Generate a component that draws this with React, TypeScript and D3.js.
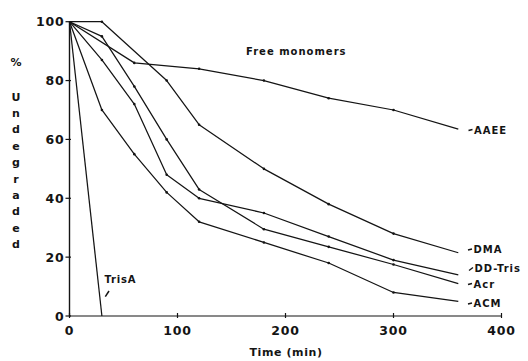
import React from "react";
import * as d3 from "d3";

const timeAAEE = [0, 60, 120, 180, 240, 300, 360];
const valAAEE = [100, 86, 84, 80, 74, 70, 63.5];
const timeDMA = [0, 30, 90, 120, 180, 240, 300, 360];
const valDMA = [100, 100, 80, 65, 50, 38, 28, 21.5];
const timeDDTris = [0, 30, 60, 90, 120, 180, 240, 300, 360];
const valDDTris = [100, 87, 72, 48, 40, 35, 27, 19, 14];
const timeAcr = [0, 30, 60, 90, 120, 180, 240, 300, 360];
const valAcr = [100, 95, 78, 60, 43, 29.5, 23.5, 17.5, 11];
const timeACM = [0, 30, 60, 90, 120, 180, 240, 300, 360];
const valACM = [100, 70, 55, 42, 32, 25, 18, 8, 5];
const timeTrisA = [0, 30];
const valTrisA = [100, 0];

const seriesNames = ["AAEE", "DMA", "DD-Tris", "Acr", "ACM", "TrisA"];
const xTicks = [0, 100, 200, 300, 400];
const yTicks = [0, 20, 40, 60, 80, 100];
const yTitleLetters = ["U", "n", "d", "e", "g", "r", "a", "d", "e", "d"];

const W = 528;
const H = 361;

export default function App() {
  const x = d3.scaleLinear().domain([0, 400]).range([69.5, 501.5]);
  const y = d3.scaleLinear().domain([0, 100]).range([316, 21.7]);
  const line = d3
    .line<[number, number]>()
    .x((d) => x(d[0]))
    .y((d) => y(d[1]));

  const series = [
    { name: seriesNames[0], t: timeAAEE, v: valAAEE },
    { name: seriesNames[1], t: timeDMA, v: valDMA },
    { name: seriesNames[2], t: timeDDTris, v: valDDTris },
    { name: seriesNames[3], t: timeAcr, v: valAcr },
    { name: seriesNames[4], t: timeACM, v: valACM },
    { name: seriesNames[5], t: timeTrisA, v: valTrisA },
  ];

  const labelPos: Record<string, { x: number; y: number }> = {
    AAEE: { x: 474, y: 130 },
    DMA: { x: 473.5, y: 249.5 },
    "DD-Tris": { x: 474.5, y: 268.5 },
    Acr: { x: 473.5, y: 284 },
    ACM: { x: 473.5, y: 303.5 },
  };

  const font = "'DejaVu Sans', sans-serif";
  const ink = "#141414";

  return (
    <svg
      width={W}
      height={H}
      style={{ position: "absolute", left: 0, top: 0, background: "#fff" }}
      fontFamily={font}
    >
      <rect width={W} height={H} fill="#fff" />
      {/* axes */}
      <line x1={x(0)} x2={x(400)} y1={y(0)} y2={y(0)} stroke={ink} strokeWidth={1.2} />
      <line x1={x(0)} x2={x(0)} y1={y(0)} y2={y(100)} stroke={ink} strokeWidth={1.4} />
      {xTicks.map((t) => (
        <g key={"xt" + t}>
          <line x1={x(t)} x2={x(t)} y1={y(0) - 3} y2={y(0) + 2} stroke={ink} strokeWidth={1.2} />
          <text
            x={x(t)}
            y={y(0) + 19}
            textAnchor="middle"
            fontSize={12.5}
            fontWeight="bold"
            letterSpacing={0.8}
            fill={ink}
          >
            {t}
          </text>
        </g>
      ))}
      {yTicks.map((t) => (
        <g key={"yt" + t}>
          <line x1={x(0) - 4} x2={x(0) + 1.5} y1={y(t)} y2={y(t)} stroke={ink} strokeWidth={1.2} />
          <text
            x={x(0) - 5}
            y={y(t) + 4.5}
            textAnchor="end"
            fontSize={12.5}
            fontWeight="bold"
            letterSpacing={0.8}
            fill={ink}
          >
            {t}
          </text>
        </g>
      ))}
      <text x={286} y={356} textAnchor="middle" fontSize={11} fontWeight="bold" letterSpacing={0.6} fill={ink}>
        Time (min)
      </text>
      <text x={16} y={66} textAnchor="middle" fontSize={11} fontWeight="bold" fill={ink}>
        %
      </text>
      {yTitleLetters.map((c, i) => (
        <text
          key={"yl" + i}
          x={16}
          y={100.5 + i * 16.4}
          textAnchor="middle"
          fontSize={11}
          fontWeight="bold"
          fill={ink}
        >
          {c}
        </text>
      ))}
      {/* series */}
      {series.map((s) => {
        const pts: [number, number][] = s.t.map((t, i) => [t, s.v[i]]);
        return (
          <g key={s.name}>
            <path d={line(pts) || ""} fill="none" stroke={ink} strokeWidth={1.25} strokeLinejoin="round" />
            {pts.slice(1, -1).map((p, i) => (
              <circle key={i} cx={x(p[0])} cy={y(p[1])} r={1.3} fill={ink} />
            ))}
          </g>
        );
      })}
      {/* end labels */}
      {Object.keys(labelPos).map((k) => {
        const p = labelPos[k];
        return (
          <g key={"lab" + k}>
            <line
              x1={p.x - 5.5}
              x2={p.x - 1.5}
              y1={k === "DD-Tris" ? p.y + 2 : p.y + 0.5}
              y2={k === "DD-Tris" ? p.y - 1 : p.y - 0.5}
              stroke={ink}
              strokeWidth={1.3}
            />
            <text x={p.x} y={p.y + 3.8} fontSize={10} fontWeight="bold" letterSpacing={1} fill={ink}>
              {k}
            </text>
          </g>
        );
      })}
      <text x={104.5} y={283} fontSize={10} fontWeight="bold" letterSpacing={0.8} fill={ink}>
        TrisA
      </text>
      <line x1={105.3} y1={296.7} x2={109} y2={291} stroke={ink} strokeWidth={1.5} />
      <text x={246} y={54.5} fontSize={10} fontWeight="bold" letterSpacing={1} fill={ink}>
        Free monomers
      </text>
    </svg>
  );
}
